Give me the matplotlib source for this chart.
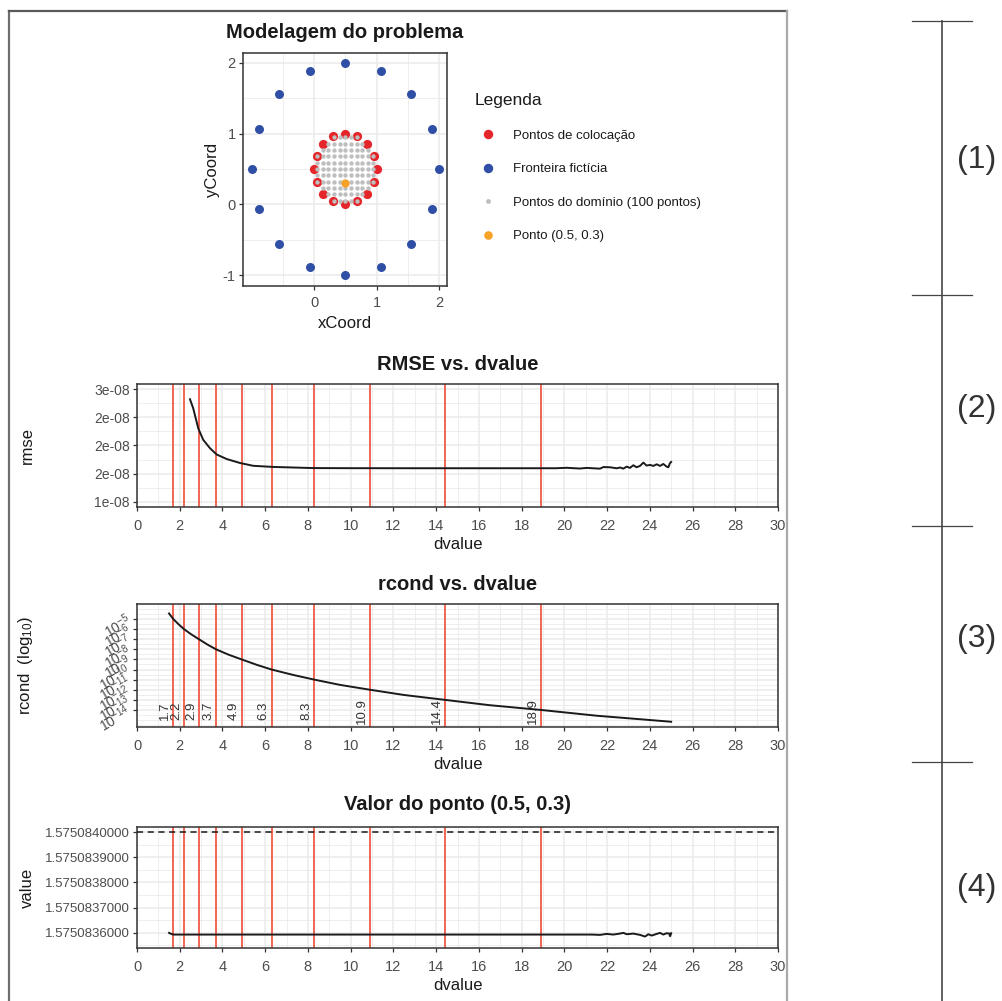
import matplotlib
matplotlib.use("Agg")
import matplotlib.pyplot as plt
import numpy as np
from matplotlib.lines import Line2D
from matplotlib.ticker import MultipleLocator, FixedLocator

plt.rcParams['font.family'] = ['Liberation Sans', 'DejaVu Sans']
plt.rcParams['mathtext.fontset'] = 'custom'
plt.rcParams['mathtext.rm'] = 'Liberation Sans'
plt.rcParams['mathtext.it'] = 'Liberation Sans:italic'
plt.rcParams['mathtext.bf'] = 'Liberation Sans:bold'
plt.rcParams['mathtext.default'] = 'regular'
plt.rcParams['axes.unicode_minus'] = False

# ---------------- data ----------------
# panel 1: model of the problem
ficticia_x = [2.00, 1.89, 1.56, 1.07, 0.50, -0.07, -0.56, -0.89, -1.00, -0.89, -0.56, -0.07, 0.50, 1.07, 1.56, 1.89]
ficticia_y = [0.50, 1.07, 1.56, 1.89, 2.00, 1.89, 1.56, 1.07, 0.50, -0.07, -0.56, -0.89, -1.00, -0.89, -0.56, -0.07]
colocacao_x = [1.00, 0.96, 0.85, 0.69, 0.50, 0.31, 0.15, 0.04, 0.00, 0.04, 0.15, 0.31, 0.50, 0.69, 0.85, 0.96]
colocacao_y = [0.50, 0.69, 0.85, 0.96, 1.00, 0.96, 0.85, 0.69, 0.50, 0.31, 0.15, 0.04, 0.00, 0.04, 0.15, 0.31]
dominio_niveis = [0.05, 0.14, 0.23, 0.32, 0.41, 0.50, 0.59, 0.68, 0.77, 0.86, 0.95]
dominio_centro = (0.5, 0.5)
dominio_raio = 0.5
ponto_x = [0.5]
ponto_y = [0.3]

# vertical reference lines (dvalue where rcond crosses each decade)
d_marcas = [1.7, 2.2, 2.9, 3.7, 4.9, 6.3, 8.3, 10.9, 14.4, 18.9]
d_marcas_txt = ["1.7", "2.2", "2.9", "3.7", "4.9", "6.3", "8.3", "10.9", "14.4", "18.9"]

# panel 2: RMSE vs dvalue
rmse_d = [2.48, 2.63, 2.87, 3.10, 3.42, 3.73, 4.20, 4.82, 5.44, 6.38, 8.25, 10.0, 13.2, 16.0, 19.6,
          19.80, 20.11, 20.42, 20.73, 21.05, 21.36, 21.67, 21.83, 22.14, 22.45, 22.61, 22.76, 22.92,
          23.07, 23.23, 23.38, 23.54, 23.70, 23.85, 24.01, 24.17, 24.32, 24.48, 24.63, 24.79, 24.87,
          24.94, 25.0]
rmse_v = [2.82e-08, 2.66e-08, 2.30e-08, 2.10e-08, 1.95e-08, 1.84e-08, 1.76e-08, 1.69e-08, 1.64e-08,
          1.62e-08, 1.60e-08, 1.598e-08, 1.597e-08, 1.597e-08, 1.597e-08,
          1.600e-08, 1.605e-08, 1.598e-08, 1.592e-08, 1.603e-08, 1.596e-08, 1.590e-08, 1.618e-08,
          1.614e-08, 1.596e-08, 1.610e-08, 1.590e-08, 1.626e-08, 1.603e-08, 1.650e-08, 1.614e-08,
          1.638e-08, 1.697e-08, 1.644e-08, 1.656e-08, 1.638e-08, 1.667e-08, 1.638e-08, 1.673e-08,
          1.626e-08, 1.614e-08, 1.685e-08, 1.709e-08]
rmse_ticks = [1.0e-08, 1.5e-08, 2.0e-08, 2.5e-08, 3.0e-08]
rmse_ticklabels = ["1e-08", "2e-08", "2e-08", "2e-08", "3e-08"]

# panel 3: log10(rcond) vs dvalue
rcond_d = [1.5, 1.7, 1.95, 2.2, 2.55, 2.9, 3.3, 3.7, 4.3, 4.9, 5.6, 6.3, 7.3, 8.3, 9.5, 10.9,
           12.5, 14.4, 16.5, 18.9, 21.5, 25.0]
rcond_log = [-4.45, -5.0, -5.53, -6.0, -6.53, -7.0, -7.53, -8.0, -8.54, -9.0, -9.53, -10.0, -10.53,
             -11.0, -11.52, -12.0, -12.52, -13.0, -13.53, -14.0, -14.57, -15.17]
rcond_ticks = [-5, -6, -7, -8, -9, -10, -11, -12, -13, -14]
rcond_ticklabels = [r"$10^{-5}$", r"$10^{-6}$", r"$10^{-7}$", r"$10^{-8}$", r"$10^{-9}$",
                    r"$10^{-10}$", r"$10^{-11}$", r"$10^{-12}$", r"$10^{-13}$", r"$10^{-14}$"]

# panel 4: value at point (0.5, 0.3)
valor_d = [1.5, 1.6, 1.7, 5.0, 10.0, 15.0, 20.0, 21.28, 21.67, 21.98, 22.29, 22.60, 22.76, 22.92,
           23.23, 23.54, 23.78, 23.93, 24.09, 24.32, 24.48, 24.63, 24.79, 24.91, 24.95, 25.0]
valor_v = [1.5750836000, 1.5750835960, 1.5750835933, 1.5750835933, 1.5750835933, 1.5750835933,
           1.5750835933, 1.5750835933, 1.5750835920, 1.5750835959, 1.5750835933, 1.5750835972,
           1.5750836000, 1.5750835946, 1.5750835972, 1.5750835920, 1.5750835853, 1.5750835946,
           1.5750835893, 1.5750835959, 1.5750836000, 1.5750835933, 1.5750835987, 1.5750835972,
           1.5750835867, 1.5750835987]
valor_exato = 1.575084
valor_ticks = [1.5750836, 1.5750837, 1.5750838, 1.5750839, 1.5750840]

# ---------------- styling ----------------
RED = '#E4262B'
BLUE = '#2F4FA6'
GRAY = '#BEBEBE'
ORANGE = '#F6A229'
VLINE = '#EE4D36'
GRID = '#EBEBEB'
TICKC = '#4D4D4D'
W, H = 1002, 1001

fig = plt.figure(figsize=(W / 100, H / 100), dpi=100)


def ax_px(l, t, r, b):
    return fig.add_axes([l / W, 1 - b / H, (r - l) / W, (b - t) / H])


def base_style(ax):
    ax.set_axisbelow(True)
    ax.grid(which='major', color=GRID, lw=1.1)
    ax.grid(which='minor', color=GRID, lw=0.6)
    ax.tick_params(which='minor', length=0)
    ax.tick_params(which='major', length=3.2, width=0.9, color='#333333', labelcolor=TICKC,
                   labelsize=9.5, pad=2)
    ax.tick_params(axis='x', which='major', labelsize=10.5, pad=5.2)
    for sp in ax.spines.values():
        sp.set_color('#333333')
        sp.set_linewidth(1.1)


# ----- panel 1 -----
ax1 = ax_px(243, 53, 447, 286)
base_style(ax1)
ax1.set_xlim(-1.14, 2.13)
ax1.set_ylim(-1.155, 2.14)
ax1.xaxis.set_major_locator(FixedLocator([0, 1, 2]))
ax1.xaxis.set_minor_locator(FixedLocator([-0.5, 0.5, 1.5]))
ax1.yaxis.set_major_locator(FixedLocator([-1, 0, 1, 2]))
ax1.yaxis.set_minor_locator(FixedLocator([-0.5, 0.5, 1.5]))
ax1.tick_params(axis='y', labelsize=10.5)
ax1.tick_params(axis='x', labelsize=10.5, pad=4)

gx, gy = np.meshgrid(dominio_niveis, dominio_niveis)
dentro = (gx - dominio_centro[0]) ** 2 + (gy - dominio_centro[1]) ** 2 <= dominio_raio ** 2
ax1.scatter(ficticia_x, ficticia_y, s=42, color=BLUE, lw=0, zorder=3)
ax1.scatter(colocacao_x, colocacao_y, s=44, color=RED, lw=0, zorder=3)
ax1.scatter(gx[dentro], gy[dentro], s=10, color=GRAY, lw=0, zorder=4)
ax1.scatter(ponto_x, ponto_y, s=36, color=ORANGE, lw=0, zorder=5)
ax1.set_title('Modelagem do problema', fontsize=14.5, fontweight='bold', color='#1A1A1A', pad=11)
ax1.set_xlabel('xCoord', fontsize=12, color='#1A1A1A', labelpad=4)
ax1.set_ylabel('yCoord', fontsize=12, color='#1A1A1A', labelpad=2)

handles = [Line2D([], [], ls='', marker='o', markersize=6.8, color=RED, mew=0),
           Line2D([], [], ls='', marker='o', markersize=6.8, color=BLUE, mew=0),
           Line2D([], [], ls='', marker='o', markersize=3.5, color=GRAY, mew=0),
           Line2D([], [], ls='', marker='o', markersize=6.2, color=ORANGE, mew=0)]
labels = ['Pontos de colocação', 'Fronteira fictícia', 'Pontos do domínio (100 pontos)', 'Ponto (0.5, 0.3)']
leg = fig.legend(handles, labels, title='Legenda', loc='upper left',
                 bbox_to_anchor=(475 / W, 1 - 93 / H), frameon=False, fontsize=9.5,
                 title_fontsize=12.5, alignment='left', handlelength=2.0, handletextpad=0.9,
                 labelspacing=1.62, borderpad=0, borderaxespad=0)
for t in leg.get_texts():
    t.set_color('#1A1A1A')
leg.get_title().set_color('#1A1A1A')


def dvalue_style(ax):
    base_style(ax)
    ax.set_xlim(0, 30)
    ax.xaxis.set_major_locator(MultipleLocator(2))
    ax.xaxis.set_minor_locator(MultipleLocator(1))
    for d in d_marcas:
        ax.axvline(d, color=VLINE, lw=1.2, zorder=2)
    ax.set_xlabel('dvalue', fontsize=12, color='#1A1A1A', labelpad=3)


# ----- panel 2 -----
ax2 = ax_px(137, 384, 778, 507)
dvalue_style(ax2)
ax2.plot(rmse_d, rmse_v, color='#1A1A1A', lw=1.4, zorder=3)
ax2.set_ylim(0.91e-08, 3.09e-08)
ax2.yaxis.set_major_locator(FixedLocator(rmse_ticks))
ax2.set_yticklabels(rmse_ticklabels)
ax2.tick_params(axis='y', labelsize=10)
ax2.yaxis.set_minor_locator(FixedLocator([1.25e-08, 1.75e-08, 2.25e-08, 2.75e-08]))
ax2.set_title('RMSE vs. dvalue', fontsize=14.5, fontweight='bold', color='#1A1A1A', pad=10)
ax2.set_ylabel('rmse', fontsize=12, color='#1A1A1A')
ax2.yaxis.set_label_coords((35 - 137) / 641, 0.5)

# ----- panel 3 -----
ax3 = ax_px(137, 604, 778, 727)
dvalue_style(ax3)
ax3.plot(rcond_d, rcond_log, color='#1A1A1A', lw=1.4, zorder=3)
ax3.set_ylim(-15.69, -3.51)
ax3.yaxis.set_major_locator(FixedLocator(rcond_ticks))
ax3.yaxis.set_minor_locator(MultipleLocator(0.5))
ax3.set_yticklabels(rcond_ticklabels, rotation=30, ha='right', va='center', rotation_mode='anchor')
ax3.tick_params(axis='y', labelsize=10)
for d, txt in zip(d_marcas, d_marcas_txt):
    ax3.annotate(txt, xy=(d, -14.1), xytext=(-1.5, 0), textcoords='offset points', rotation=90,
                 ha='right', va='center', fontsize=9.5, color='#333333', zorder=4)
ax3.set_title('rcond vs. dvalue', fontsize=14.5, fontweight='bold', color='#1A1A1A', pad=10)
ax3.set_ylabel('rcond  (log$_{10}$)', fontsize=12, color='#1A1A1A')
ax3.yaxis.set_label_coords((35 - 137) / 641, 0.5)

# ----- panel 4 -----
ax4 = ax_px(137, 827, 778, 948)
dvalue_style(ax4)
ax4.axhline(valor_exato, color='#1A1A1A', lw=1.1, ls=(0, (4, 3)), zorder=3)
ax4.plot(valor_d, valor_v, color='#1A1A1A', lw=1.4, zorder=3)
ax4.set_ylim(1.57508354, 1.57508402)
ax4.yaxis.set_major_locator(FixedLocator(valor_ticks))
ax4.set_yticklabels(['%.10f' % v for v in valor_ticks])
ax4.yaxis.set_minor_locator(FixedLocator([1.57508355, 1.57508365, 1.57508375, 1.57508385, 1.57508395]))
ax4.set_title('Valor do ponto (0.5, 0.3)', fontsize=14.5, fontweight='bold', color='#1A1A1A', pad=12.5)
ax4.set_ylabel('value', fontsize=12, color='#1A1A1A')
ax4.yaxis.set_label_coords((35 - 137) / 641, 0.5)

# ----- frame and side bracket -----
def fline(x0, y0, x1, y1, **kw):
    fig.add_artist(Line2D([x0 / W, x1 / W], [1 - y0 / H, 1 - y1 / H], transform=fig.transFigure, **kw))

fline(9, 11, 9, 1001, color='#6E6E6E', lw=1.6)
fline(9, 11, 787, 11, color='#5A5A5A', lw=1.6)
fline(787, 11, 787, 1001, color='#AAAAAA', lw=1.6)

fline(942, 21, 942, 1001, color='#555555', lw=1.3)
for yy in [21, 295, 526, 762]:
    fline(912, yy, 972, yy, color='#444444', lw=0.9)
for yy, lab in zip([160, 409, 639, 888], ['(1)', '(2)', '(3)', '(4)']):
    fig.text(977 / W, 1 - yy / H, lab, fontsize=23, color='#333333', ha='center', va='center')

fig.savefig('out.png', dpi=100, facecolor='white')
